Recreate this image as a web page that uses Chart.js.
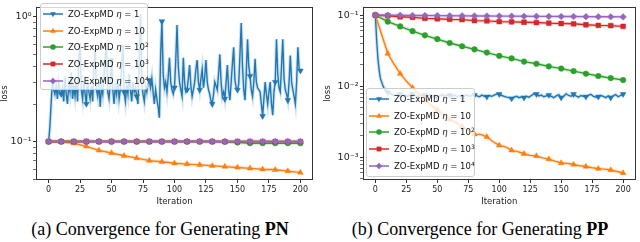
<!DOCTYPE html>
<html>
<head>
<meta charset="utf-8">
<script src="https://cdn.jsdelivr.net/npm/chart.js@4.4.1/dist/chart.umd.min.js"></script>
<style>
  body { margin: 0; width: 640px; height: 242px; background: #fff; position: relative; overflow: hidden; font-family: "DejaVu Sans", sans-serif; }
  canvas { position: absolute; top: 0; }
  #chartPN { left: 0; }
  #chartPP { left: 320px; }
  .legend { position: absolute; box-sizing: border-box; background: rgba(255,255,255,0.8); border: 1px solid #ccc; border-radius: 3px; padding-top: 2px; }
  .legend .row { height: 16.6px; display: flex; align-items: center; font-size: 8.5px; color: #111; white-space: nowrap; }
  .legend canvas { position: static; margin-left: 2px; margin-right: 4px; }
  .legend i { font-style: italic; }
  .legend sup { font-size: 6px; vertical-align: 3px; line-height: 0; }
  .caption { position: absolute; top: 219px; width: 320px; text-align: center; font-family: "Liberation Serif", serif; font-size: 18px; color: #000; }
</style>
</head>
<body>
<canvas id="chartPN" width="320" height="212"></canvas>
<canvas id="chartPP" width="320" height="212"></canvas>
<div class="legend" id="legendPN" style="left:40px; top:3px; width:108px; height:87px;"></div>
<div class="legend" id="legendPP" style="left:366px; top:88px; width:109px; height:89px;"></div>
<div class="caption" style="left:0;">(a) Convergence for Generating <b>PN</b></div>
<div class="caption" style="left:320px;">(b) Convergence for Generating <b>PP</b></div>
<script>
// ---- data ----
const etaLabels = ['1', '10', '10<sup>2</sup>', '10<sup>3</sup>', '10<sup>4</sup>'];
const colors = ['#1f77b4', '#ff7f0e', '#2ca02c', '#d62728', '#9467bd'];
const xTicks = [0, 25, 50, 75, 100, 125, 150, 175, 200];

// iterations (every step, every 10 steps, every 5 steps)
const itersAll = Array.from({length: 201}, (_, i) => i);
const iters10 = [0, 10, 20, 30, 40, 50, 60, 70, 80, 90, 100, 110, 120, 130, 140, 150, 160, 170, 180, 190, 200];
const iters5 = [0, 5, 10, 15, 20, 25, 30, 35, 40, 45, 50, 55, 60, 65, 70, 75, 80, 85, 90, 95, 100,
  105, 110, 115, 120, 125, 130, 135, 140, 145, 150, 155, 160, 165, 170, 175, 180, 185, 190, 195, 200];
const itersPPBlue = [0, 1, 2, 3, 4, 5, 6, 7, 8, 9, 10, 12, 14, 16, 18, 20, 22, 24, 26, 28, 30, 32, 34, 36, 38, 40,
  42, 44, 46, 48, 50, 52, 54, 56, 58, 60, 62, 64, 66, 68, 70, 72, 74, 76, 78, 80, 82, 84, 86, 88, 90,
  92, 94, 96, 98, 100, 102, 104, 106, 108, 110, 112, 114, 116, 118, 120, 122, 124, 126, 128, 130,
  132, 134, 136, 138, 140, 142, 144, 146, 148, 150, 152, 154, 156, 158, 160, 162, 164, 166, 168, 170,
  172, 174, 176, 178, 180, 182, 184, 186, 188, 190, 192, 194, 196, 198, 200];

// (a) PN
const pnEta1 = [
  0.1, 0.13, 0.2, 0.3, 0.26, 0.24, 0.28, 0.22, 0.3, 0.25,
  0.24, 0.27, 0.21, 0.33, 0.24, 0.2, 0.29, 0.25, 0.36, 0.22,
  0.27, 0.23, 0.3, 0.21, 0.45, 0.62, 0.26, 0.22, 0.3, 0.24,
  0.2, 0.32, 0.25, 0.22, 0.28, 0.21, 0.38, 0.55, 0.26, 0.23,
  0.29, 0.19, 0.27, 0.24, 0.33, 0.5, 0.56, 0.25, 0.22, 0.3,
  0.45, 0.26, 0.2, 0.28, 0.24, 0.31, 0.22, 0.26, 0.4, 0.6,
  0.25, 0.21, 0.28, 0.24, 0.35, 0.26, 0.21, 0.3, 0.25, 0.27,
  0.23, 0.2, 0.45, 1.05, 0.3, 0.24, 0.21, 0.28, 0.25, 0.3,
  0.31, 0.27, 0.32, 0.25, 0.2, 0.26, 0.22, 0.19, 0.155, 0.5,
  0.92, 0.35, 0.27, 0.3, 0.25, 0.33, 0.47, 0.3, 0.26, 0.24,
  0.27, 0.45, 0.86, 0.4, 0.3, 0.26, 0.23, 0.47, 0.3, 0.25,
  0.26, 0.32, 0.41, 0.28, 0.23, 0.26, 0.3, 0.38, 0.45, 0.3,
  0.26, 0.32, 0.38, 0.27, 0.33, 0.45, 0.3, 0.26, 0.24, 0.21,
  0.2, 0.24, 0.3, 0.28, 0.26, 0.35, 0.5, 0.3, 0.23, 0.25,
  0.22, 0.3, 0.41, 0.26, 0.215, 0.3, 0.42, 0.57, 0.31, 0.27,
  0.26, 0.29, 0.5, 0.89, 0.4, 0.26, 0.215, 0.35, 0.66, 0.4,
  0.335, 0.26, 0.23, 0.3, 0.46, 0.3, 0.27, 0.26, 0.25, 0.2,
  0.16, 0.22, 0.3, 0.24, 0.2, 0.25, 0.3, 0.2, 0.163, 0.25,
  0.3, 0.66, 0.35, 0.27, 0.25, 0.4, 0.66, 0.32, 0.26, 0.24,
  0.215, 0.3, 0.49, 0.3, 0.26, 0.23, 0.2, 0.3, 0.57, 0.38,
  0.37];
const pnEta10 = [0.1, 0.0995, 0.097, 0.0915, 0.085, 0.081, 0.077, 0.0737, 0.0703, 0.0689, 0.067,
  0.066, 0.065, 0.064, 0.063, 0.062, 0.061, 0.06, 0.0594, 0.058, 0.0564];
const pnEta100 = [0.1, 0.1, 0.1, 0.1, 0.1, 0.1, 0.1, 0.1, 0.1, 0.1, 0.1,
  0.1, 0.1, 0.1, 0.0995, 0.0985, 0.097, 0.097, 0.097, 0.097, 0.097];
const pnEta1000 = [0.1, 0.1, 0.1, 0.1, 0.1, 0.1, 0.1, 0.1, 0.1, 0.1, 0.1,
  0.1, 0.1, 0.1, 0.1, 0.1, 0.1, 0.1, 0.1, 0.1, 0.1];
const pnEta10000 = [0.1, 0.1, 0.1, 0.1, 0.1, 0.1, 0.1, 0.1, 0.1, 0.1, 0.1,
  0.1, 0.1, 0.1, 0.1, 0.1, 0.1, 0.1, 0.1, 0.1, 0.1];

// (b) PP
const ppEta1 = [0.1, 0.045, 0.025, 0.017, 0.013, 0.0115, 0.0102, 0.0094, 0.0089, 0.0085, 0.0082,
  0.0079, 0.0076, 0.0074, 0.0076, 0.0077, 0.0073, 0.0075, 0.0072, 0.0076, 0.0077,
  0.0074, 0.0071, 0.0075, 0.0073, 0.0075, 0.0072, 0.0076, 0.0073, 0.0071, 0.0069,
  0.0073, 0.0076, 0.0072, 0.0074, 0.0075, 0.0072, 0.0075, 0.0071, 0.0074, 0.0071,
  0.0074, 0.0076, 0.0072, 0.0074, 0.0075, 0.0073, 0.0071, 0.0075, 0.0072, 0.0071,
  0.0074, 0.0072, 0.0075, 0.0078, 0.0077, 0.0074, 0.0072, 0.007, 0.0069, 0.0067,
  0.007, 0.0072, 0.0069, 0.0071, 0.0069, 0.0072, 0.007, 0.0074, 0.0078, 0.0077,
  0.0073, 0.0075, 0.0071, 0.0073, 0.0075, 0.0072, 0.0069, 0.0073, 0.0076, 0.0069,
  0.0072, 0.0078, 0.0074, 0.0072, 0.0077, 0.0073, 0.007, 0.0074, 0.0072, 0.0071,
  0.0074, 0.0077, 0.0072, 0.007, 0.0071, 0.0074, 0.0072, 0.0069, 0.0073, 0.0069,
  0.0073, 0.0076, 0.0071, 0.0074, 0.0077];
const ppEta10 = [0.1, 0.054, 0.0288, 0.0205, 0.015, 0.0118, 0.0095, 0.0078, 0.0064, 0.0054, 0.0046,
  0.004, 0.0034, 0.0031, 0.0027, 0.0024, 0.0021, 0.0021, 0.00194, 0.00165, 0.00147,
  0.0014, 0.00125, 0.0012, 0.00112, 0.00106, 0.00104, 0.00098, 0.00094, 0.00088, 0.00083,
  0.00082, 0.00079, 0.00076, 0.00074, 0.00071, 0.00069, 0.00068, 0.00066, 0.00063, 0.0006];
const ppEta100 = [0.1, 0.081, 0.0695, 0.0595, 0.052, 0.046, 0.0406, 0.0365, 0.033, 0.0297, 0.0267,
  0.0246, 0.0222, 0.0207, 0.019, 0.0177, 0.0163, 0.015, 0.0139, 0.013, 0.0122];
const ppEta1000 = [0.1, 0.098, 0.0948, 0.093, 0.09, 0.089, 0.0873, 0.0865, 0.0838, 0.083, 0.0812,
  0.0805, 0.0795, 0.0787, 0.0771, 0.0763, 0.0755, 0.0732, 0.0717, 0.0712, 0.0695];
const ppEta10000 = [0.1, 0.1, 0.0995, 0.099, 0.0987, 0.0985, 0.098, 0.0978, 0.0975, 0.0972, 0.097,
  0.0968, 0.0965, 0.0962, 0.096, 0.0958, 0.0955, 0.0953, 0.095, 0.0948, 0.0945];

// ---- marker styles per eta ----
const markers = [
  {pointStyle: 'triangle', rotation: 180, radius: 3.3},
  {pointStyle: 'triangle', rotation: 0, radius: 3.3},
  {pointStyle: 'circle', rotation: 0, radius: 2.8},
  {pointStyle: 'rect', rotation: 0, radius: 3.4},
  {pointStyle: 'rectRot', rotation: 0, radius: 3.3}
];

function toPoints(iters, values) {
  return iters.map((x, i) => ({x: x, y: values[i]}));
}

function hexAlpha(hex, a) {
  const n = parseInt(hex.slice(1), 16);
  return `rgba(${n >> 16}, ${(n >> 8) & 255}, ${n & 255}, ${a})`;
}

function buildDatasets(seriesList) {
  const sets = [];
  seriesList.forEach((pts, i) => {
    // light band around each curve
    sets.push({
      data: pts, borderColor: hexAlpha(colors[i], 0.2), borderWidth: 3.5,
      pointRadius: 0, order: 20 - i, tension: 0
    });
    sets.push({
      data: pts, borderColor: colors[i], borderWidth: 1.4,
      pointStyle: markers[i].pointStyle, rotation: markers[i].rotation,
      pointBackgroundColor: colors[i], pointBorderColor: colors[i], pointBorderWidth: 0.5,
      pointRadius: (ctx) => (ctx.raw && ctx.raw.x % 10 === 0 ? markers[i].radius : 0),
      order: 10 - i, tension: 0
    });
  });
  return sets;
}

function minorLogTicks(fromExp, toExp) {
  const ticks = [];
  for (let e = fromExp; e <= toExp; e++) {
    for (let m = 1; m <= 9; m++) ticks.push(m * Math.pow(10, e));
  }
  return ticks;
}

// frame around the plot area, like matplotlib spines
const framePlugin = {
  id: 'frame',
  afterDatasetsDraw(chart) {
    const a = chart.chartArea;
    const ctx = chart.ctx;
    ctx.save();
    ctx.strokeStyle = '#333';
    ctx.lineWidth = 1;
    ctx.strokeRect(Math.round(a.left) + 0.5, Math.round(a.top) + 0.5,
      Math.round(a.right - a.left) - 1, Math.round(a.bottom - a.top) - 1);
    ctx.restore();
  }
};

function makeChart(canvasId, cfg) {
  const ctx = document.getElementById(canvasId).getContext('2d');
  const tickValues = minorLogTicks(cfg.fromExp, cfg.toExp).filter(v => v >= cfg.yMin * 0.999 && v <= cfg.yMax);
  return new Chart(ctx, {
    type: 'line',
    data: {datasets: buildDatasets(cfg.series)},
    plugins: [framePlugin],
    options: {
      responsive: false,
      animation: false,
      events: [],
      devicePixelRatio: 1,
      layout: {padding: {left: 0, right: cfg.padRight, top: 0, bottom: 0}},
      plugins: {legend: {display: false}, tooltip: {enabled: false}},
      scales: {
        x: {
          type: 'linear', min: -10, max: 210,
          afterBuildTicks: (s) => { s.ticks = xTicks.map(v => ({value: v})); },
          afterFit: (s) => { s.height = 32; },
          border: {display: false},
          grid: {drawOnChartArea: false, drawTicks: true, tickLength: 3, tickColor: '#333'},
          ticks: {autoSkip: false, maxRotation: 0, padding: 2, color: '#222',
            font: {family: 'DejaVu Sans', size: 8}},
          title: {display: true, text: 'Iteration', color: '#222',
            font: {family: 'DejaVu Sans', size: 8.5}, padding: {top: 0, bottom: 5}}
        },
        y: {
          type: 'logarithmic', min: cfg.yMin, max: cfg.yMax,
          afterBuildTicks: (s) => { s.ticks = tickValues.map(v => ({value: v})); },
          afterFit: (s) => { s.width = cfg.yWidth; },
          border: {display: false},
          grid: {drawOnChartArea: false, drawTicks: true, tickLength: 3, tickColor: '#333',
            tickWidth: (c) => (cfg.yLabelValues.some(v => Math.abs(v - c.tick.value) < v * 1e-6) ? 1 : 0.7)},
          ticks: {
            autoSkip: false, padding: 1.5, color: '#222',
            font: {family: 'DejaVu Sans', size: 9.5},
            callback: (value) => {
              const k = cfg.yLabelValues.findIndex(v => Math.abs(v - value) < v * 1e-6);
              return k >= 0 ? cfg.yLabels[k] : '';
            }
          },
          title: {display: true, text: 'loss', color: '#222',
            font: {family: 'DejaVu Sans', size: 8.5}, padding: {top: cfg.titlePad, bottom: 0}}
        }
      }
    }
  });
}

function drawHandle(i) {
  const c = document.createElement('canvas');
  c.width = 21; c.height = 10;
  const g = c.getContext('2d');
  g.strokeStyle = colors[i];
  g.lineWidth = 1.5;
  g.beginPath(); g.moveTo(0, 5); g.lineTo(20, 5); g.stroke();
  g.fillStyle = colors[i];
  Chart.helpers.drawPoint(g, {pointStyle: markers[i].pointStyle, rotation: markers[i].rotation,
    radius: markers[i].radius, borderWidth: 0}, 10, 5);
  return c;
}

function buildLegend(id) {
  const box = document.getElementById(id);
  etaLabels.forEach((lab, i) => {
    const row = document.createElement('div');
    row.className = 'row';
    row.appendChild(drawHandle(i));
    const txt = document.createElement('span');
    txt.innerHTML = 'ZO-ExpMD <i>η</i> = ' + lab;
    row.appendChild(txt);
    box.appendChild(row);
  });
}

makeChart('chartPN', {
  series: [toPoints(itersAll, pnEta1), toPoints(iters10, pnEta10), toPoints(iters10, pnEta100),
    toPoints(iters10, pnEta1000), toPoints(iters10, pnEta10000)],
  yMin: 0.0492, yMax: 1.194, fromExp: -2, toExp: 0,
  yLabelValues: [0.1, 1], yLabels: ['10\u207B\u00B9', '10\u2070'],
  yWidth: 36, padRight: 7, titlePad: 0
});

makeChart('chartPP', {
  series: [toPoints(itersPPBlue, ppEta1), toPoints(iters5, ppEta10), toPoints(iters10, ppEta100),
    toPoints(iters10, ppEta1000), toPoints(iters10, ppEta10000)],
  yMin: 0.000478, yMax: 0.1294, fromExp: -4, toExp: -1,
  yLabelValues: [0.001, 0.01, 0.1], yLabels: ['10\u207B\u00B3', '10\u207B\u00B2', '10\u207B\u00B9'],
  yWidth: 43, padRight: 1, titlePad: 3
});

buildLegend('legendPN');
buildLegend('legendPP');
</script>
</body>
</html>
